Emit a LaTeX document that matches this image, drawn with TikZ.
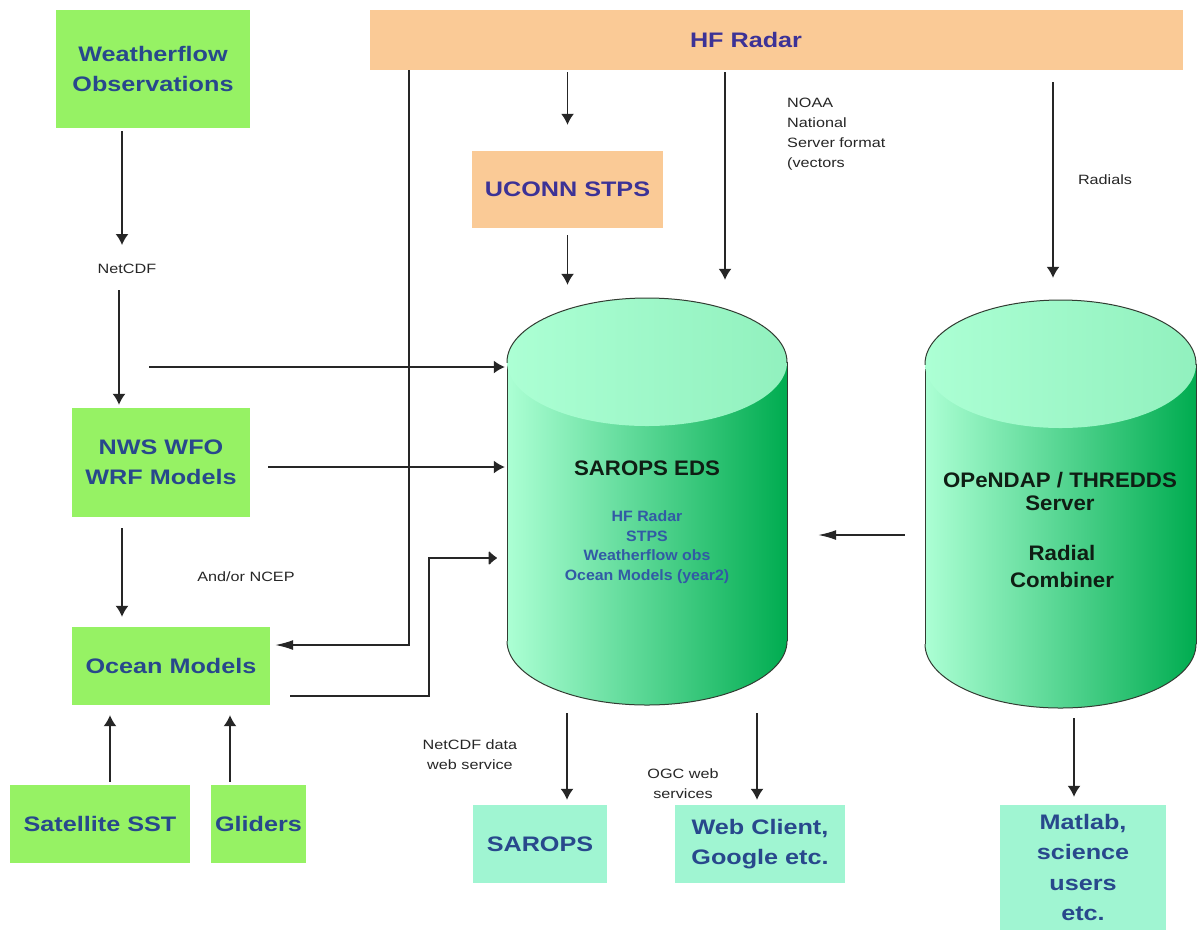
\documentclass[tikz,border=0pt]{standalone}
\usepackage{fontspec}
\setmainfont{Liberation Sans}[FakeStretch=1.2]
\newfontfamily\cylfont{Liberation Sans}[FakeStretch=1.06]
\usetikzlibrary{arrows.meta,calc}
\definecolor{boxgreen}{RGB}{150,242,100}
\definecolor{boxorange}{RGB}{250,202,150}
\definecolor{boxaqua}{RGB}{160,245,210}
\definecolor{txtblue}{RGB}{40,72,140}
\definecolor{txtpurple}{RGB}{60,50,150}
\definecolor{cylblue}{RGB}{50,90,165}
\definecolor{cyllight}{RGB}{172,255,212}
\definecolor{cyldark}{RGB}{0,172,80}
\definecolor{cyltop}{RGB}{165,250,205}
\definecolor{cylline}{RGB}{50,60,50}
\definecolor{cyltext}{RGB}{15,30,20}
\begin{document}
\begin{tikzpicture}[x=1pt,y=-1pt,
  boxtext/.style={font=\fontsize{21}{30.5}\selectfont\bfseries, align=center, inner sep=0pt},
  greenbox/.style={boxtext, fill=boxgreen, text=txtblue},
  orangebox/.style={boxtext, fill=boxorange, text=txtpurple},
  aquabox/.style={boxtext, fill=boxaqua, text=txtblue},
  lbl/.style={font=\fontsize{13.5}{20}\selectfont, text=black!85, align=center, inner sep=1pt},
  arr/.style={line width=1.5pt, draw=black!85, -{Latex[length=11pt,width=13pt]}},
  bigarr/.style={line width=1.5pt, draw=black!85, -{Latex[length=18pt,width=10pt]}},
  roundarr/.style={line width=1.5pt, draw=black!85, -{Latex[round,length=9pt,width=16pt]}},
  cylout/.style={draw=cylline, line width=1pt},
]
\useasboundingbox (0,0) rectangle (1198,930);
\fill[white] (0,0) rectangle (1198,930);

% ---------- cylinders ----------
% SAROPS EDS
\shade[left color=cyllight, right color=cyldark] (507,362) rectangle (787,641);
\shade[left color=cyllight, right color=cyldark] (647,641) ellipse[x radius=140, y radius=64];
\draw[cylout] (507,362) -- (507,641);
\draw[cylout] (787,362) -- (787,641);
\begin{scope}
  \clip (495,641) rectangle (800,720);
  \draw[cylout] (647,641) ellipse[x radius=140, y radius=64];
\end{scope}
\shade[left color=cyllight, right color=cyltop!88!cyldark] (647,362) ellipse[x radius=140, y radius=64];
\begin{scope}
  \clip (495,290) rectangle (800,362);
  \draw[cylout] (647,362) ellipse[x radius=140, y radius=64];
\end{scope}
\node (eds) [minimum width=280pt, minimum height=410pt, inner sep=0pt] at (647,503) {};

% OPeNDAP
\shade[left color=cyllight, right color=cyldark] (925,364) rectangle (1196,644);
\shade[left color=cyllight, right color=cyldark] (1060.5,644) ellipse[x radius=135.5, y radius=64];
\draw[cylout] (925,364) -- (925,644);
\draw[cylout] (1196,364) -- (1196,644);
\begin{scope}
  \clip (915,644) rectangle (1198,720);
  \draw[cylout] (1060.5,644) ellipse[x radius=135.5, y radius=64];
\end{scope}
\shade[left color=cyllight, right color=cyltop!88!cyldark] (1060.5,364) ellipse[x radius=135.5, y radius=64];
\begin{scope}
  \clip (915,290) rectangle (1198,364);
  \draw[cylout] (1060.5,364) ellipse[x radius=135.5, y radius=64];
\end{scope}
\node (opd) [minimum width=271pt, minimum height=408pt, inner sep=0pt] at (1060.5,504) {};

% cylinder texts
\node (edstitle) [font=\cylfont\fontsize{21}{26}\selectfont\bfseries, text=cyltext] at (647,468) {SAROPS EDS};
\node (edslist) [font=\cylfont\fontsize{15}{19.5}\selectfont\bfseries, text=cylblue, align=center] at (647,547)
  {HF Radar\\STPS\\Weatherflow obs\\Ocean Models (year2)};
\node (opdtitle) [font=\cylfont\fontsize{21}{23}\selectfont\bfseries, text=cyltext, align=center] at (1060,491.5)
  {OPeNDAP / THREDDS\\Server};
\node (opdsub) [font=\cylfont\fontsize{21}{27}\selectfont\bfseries, text=cyltext, align=center] at (1062,566.5)
  {Radial\\Combiner};

% ---------- boxes ----------
\node (wf) [greenbox, minimum width=194pt, minimum height=118pt] at (153,69) {Weatherflow\\Observations};
\node (nws) [greenbox, minimum width=178pt, minimum height=109pt] at (161,462.5) {NWS WFO\\WRF Models};
\node (ocean) [greenbox, minimum width=198pt, minimum height=78pt] at (171,666) {Ocean Models};
\node (sst) [greenbox, minimum width=180pt, minimum height=78pt] at (100,824) {Satellite SST};
\node (gli) [greenbox, minimum width=95pt, minimum height=78pt] at (258.5,824) {Gliders};

\node (hf) [orangebox, minimum width=813pt, minimum height=60pt] at (776.5,40) {};
\node (hftext) [boxtext, text=txtpurple] at (746,40) {HF Radar};
\node (uconn) [orangebox, minimum width=191pt, minimum height=77pt] at (567.5,189.5) {UCONN STPS};

\node (sar) [aquabox, minimum width=134pt, minimum height=78pt] at (540,844) {SAROPS};
\node (web) [aquabox, minimum width=170pt, minimum height=78pt] at (760,844) {Web Client,\\Google etc.};
\node (mat) [aquabox, minimum width=166pt, minimum height=125pt] at (1083,867.5) {Matlab,\\science\\users\\etc.};

% ---------- labels ----------
\node (ncdf) [lbl] at (127,269) {NetCDF};
\node (ncep) [lbl] at (246,577) {And/or NCEP};
\node (noaa) [lbl, align=left, anchor=north west] at (786,97) {NOAA\\National\\Server format\\(vectors};
\node (rad) [lbl] at (1105,180) {Radials};
\node (ncws) [lbl] at (470,755) {NetCDF data\\web service};
\node (ogc) [lbl] at (683,784) {OGC web\\services};

% ---------- coordinates ----------
\coordinate (ncin) at (122,245);
\coordinate (ncout) at (119,290);
\coordinate (wfside) at (149,367);
\coordinate (nwsside) at (268,467);
\coordinate (colA) at (122,0);
\coordinate (hfA) at (409,645);
\coordinate (omA) at (290,696);
\coordinate (omB) at (429,558);
\coordinate (colB) at (725,0);
\coordinate (colC) at (1053,0);
\coordinate (rowA) at (0,535);
\coordinate (colD) at (567,0);
\coordinate (colE) at (757,0);
\coordinate (colF) at (1074,0);
\coordinate (colG) at (110,0);
\coordinate (colH) at (230,0);

% ---------- connectors ----------
\draw[arr, shorten <=3pt] (wf.south -| ncin) -- (ncin);
\draw[arr, shorten >=3pt] (ncout) -- (nws.north -| ncout);
\draw[arr, shorten >=2pt] (wfside) -- (wfside -| eds.west);
\draw[arr, shorten >=2pt] (nwsside) -- (nwsside -| eds.west);
\draw[arr, shorten <=11pt, shorten >=10pt] (nws.south -| colA) -- (ocean.north -| colA);
\draw[bigarr, shorten >=5pt] (hf.south -| hfA) -- (hfA) -- (hfA -| ocean.east);
\draw[roundarr, shorten >=10pt] (omA) -- (omA -| omB) -- (omB) -- (omB -| eds.west);
\draw[arr, shorten <=2pt, shorten >=26pt] (hf.south -| uconn.north) -- (uconn.north);
\draw[arr, shorten <=7pt, shorten >=13pt] (uconn.south) -- (uconn.south |- eds.north);
\draw[arr, shorten <=2pt, shorten >=18pt] (hf.south -| colB) -- (eds.north -| colB);
\draw[arr, shorten <=12pt, shorten >=22pt] (hf.south -| colC) -- (opd.north -| colC);
\draw[bigarr, shorten <=20pt, shorten >=31pt] (opd.west |- rowA) -- (eds.east |- rowA);
\draw[arr, shorten <=5pt, shorten >=5pt] (eds.south -| colD) -- (sar.north -| colD);
\draw[arr, shorten <=5pt, shorten >=5pt] (eds.south -| colE) -- (web.north -| colE);
\draw[arr, shorten <=10pt, shorten >=8pt] (opd.south -| colF) -- (mat.north -| colF);
\draw[arr, shorten <=3pt, shorten >=10pt] (sst.north -| colG) -- (ocean.south -| colG);
\draw[arr, shorten <=3pt, shorten >=10pt] (gli.north -| colH) -- (ocean.south -| colH);
\end{tikzpicture}
\end{document}
